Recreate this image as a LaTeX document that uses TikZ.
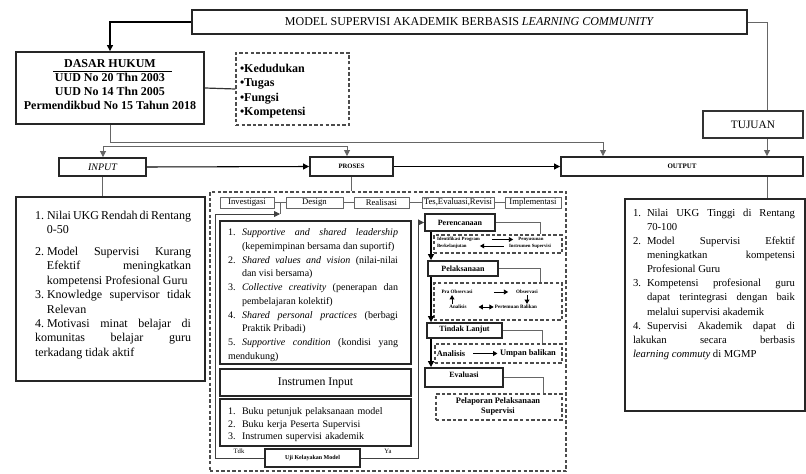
\documentclass[tikz,border=0pt]{standalone}
\usepackage{fontspec}
\setmainfont{Liberation Serif}
\usetikzlibrary{arrows.meta,fit}
\newlength{\lind}
\newcommand{\li}[2]{\par\hangindent=\lind\hangafter=1\noindent\makebox[\lind][l]{#1}#2}
\newcommand{\fs}[2]{\fontsize{#1}{#2}\selectfont}
\tikzset{
  heavy/.style={draw=black!85, line width=1.4pt, inner sep=0pt},
  medium/.style={draw=black!80, line width=1pt, inner sep=0pt},
  light/.style={draw=black!60, line width=0.6pt, inner sep=0pt},
  dbox/.style={draw=black!70, line width=1.1pt, dash pattern=on 2.6pt off 1.6pt, inner sep=0pt},
  link/.style={draw=black!60, line width=0.6pt},
  flow/.style={draw=black, line width=1.2pt},
  txt/.style={inner sep=0pt, outer sep=0pt},
  small tips/.style={>={Triangle[length=3.2pt,width=3.6pt]}},
}
\begin{document}
\begin{tikzpicture}[x=0.75pt,y=-0.75pt,>={Triangle[length=4.5pt,width=4.5pt]}]
\useasboundingbox[fill=white] (0,0) rectangle (806,474);

% ---------- top ----------
\node[heavy, fit={(192,10)(747,34)}] (title) {};
\node[txt, font=\fs{9}{11}] (titlet) at (title.center) {MODEL SUPERVISI AKADEMIK BERBASIS \textit{LEARNING COMMUNITY}};

\node[heavy, fit={(16,52)(204,124)}] (dh) {};
\node[txt, font=\bfseries\fs{9}{11}] (dht) at (110,64) {DASAR HUKUM};
\draw[line width=0.6pt] (53,71.5) -- (172,71.5);
\node[txt, font=\bfseries\fs{9}{10.5}, align=center, anchor=north] (dhl) at (110,73.5) {UUD No 20 Thn 2003\\UUD No 14 Thn 2005\\Permendikbud No 15 Tahun 2018};

\node[dbox, fit={(236,53)(349,125)}] (kb) {};
\node[txt, font=\bfseries\fs{9}{10.7}, align=left, anchor=west] (kbt) at (240,91) {•Kedudukan\\•Tugas\\•Fungsi\\•Kompetensi};

\node[medium, fit={(703,111)(803,138)}] (tuj) {};
\node[txt, font=\fs{8.5}{10}] (tujt) at (tuj.center) {TUJUAN};

% ---------- row ----------
\node[heavy, fit={(59,158)(146,176)}] (inp) {};
\node[txt, font=\itshape\fs{7.5}{9}] (inpt) at (inp.center) {INPUT};
\node[heavy, fit={(310,157)(393,176)}] (pro) {};
\node[txt, font=\bfseries\fs{5}{6}] (prot) at (pro.center) {PROSES};
\node[heavy, fit={(561,157)(803,176)}] (out) {};
\node[txt, font=\bfseries\fs{5.2}{6}] (outt) at (out.center) {OUTPUT};

% ---------- left box ----------
\node[heavy, fit={(16,197)(205,381)}] (lb) {};
\node[txt, anchor=north west, text width=117pt, align=justify, font=\fs{9}{10.8}] (lbt) at (35,205) {\setlength{\lind}{9pt}%
\li{1.}{Nilai UKG Rendah di Rentang\linebreak 0-50}\par\vskip5.5pt
\li{2.}{Model Supervisi Kurang\linebreak Efektif meningkatkan\linebreak kompetensi Profesional Guru}
\li{3.}{Knowledge supervisor tidak\linebreak Relevan}
\li{4.}{Motivasi minat belajar di\linebreak komunitas belajar guru\linebreak terkadang tidak aktif}};

% ---------- right box ----------
\node[heavy, fit={(625,199)(805,411)}] (rb) {};
\node[txt, anchor=north west, text width=121.5pt, align=justify, font=\fs{8}{10.6}] (rbt) at (633,202) {\setlength{\lind}{10.5pt}%
\li{1.}{Nilai UKG Tinggi di Rentang\linebreak 70-100}
\li{2.}{Model Supervisi Efektif\linebreak meningkatkan kompetensi\linebreak Profesional Guru}
\li{3.}{Kompetensi profesional guru\linebreak dapat terintegrasi dengan baik\linebreak melalui supervisi akademik}
\li{4.}{Supervisi Akademik dapat di\linebreak lakukan secara berbasis\linebreak \textit{learning commuty} di MGMP}};

% ---------- middle ----------
\node[dbox, fit={(210,192)(566,471)}] (mb) {};
\node[light, fit={(220,197)(274,208)}] (tab1) {};
\node[light, fit={(286,197)(343,208)}] (tab2) {};
\node[light, fit={(354,197)(409,208)}] (tab3) {};
\node[light, fit={(422,197)(494,208)}] (tab4) {};
\node[light, fit={(505,197)(561,208)}] (tab5) {};
\node[txt, font=\fs{6.5}{7}] (tab1t) at (tab1.center) {Investigasi};
\node[txt, font=\fs{6.5}{7}] (tab2t) at (tab2.center) {Design};
\node[txt, font=\fs{6.5}{7}] (tab3t) at (tab3.center) {Realisasi};
\node[txt, font=\fs{6.5}{7}] (tab4t) at (tab4.center) {Tes,Evaluasi,Revisi};
\node[txt, font=\fs{6.5}{7}] (tab5t) at (tab5.center) {Implementasi};

\node[heavy, fit={(220,221)(411,364)}] (ib) {};
\node[txt, anchor=north west, text width=127.5pt, align=justify, font=\fs{7.5}{10.3}] (ibt) at (228,222) {\setlength{\lind}{10.5pt}%
\li{1.}{\textit{Supportive and shared leadership}\linebreak (kepemimpinan bersama dan suportif)}
\li{2.}{\textit{Shared values and vision} (nilai-nilai\linebreak dan visi bersama)}
\li{3.}{\textit{Collective creativity} (penerapan dan\linebreak pembelajaran kolektif)}
\li{4.}{\textit{Shared personal practices} (berbagi\linebreak Praktik Pribadi)}
\li{5.}{\textit{Supportive condition} (kondisi yang\linebreak mendukung)}};

\node[heavy, fit={(220,369)(411,396)}] (ii) {};
\node[txt, font=\fs{8.8}{10}] (iit) at (ii.center) {Instrumen Input};
\node[heavy, fit={(220,399)(411,446)}] (il) {};
\node[txt, anchor=north west, text width=135pt, align=left, font=\fs{7.5}{9.4}] (ilt) at (228,402) {\setlength{\lind}{10.5pt}%
\li{1.}{Buku petunjuk pelaksanaan model}
\li{2.}{Buku kerja Peserta Supervisi}
\li{3.}{Instrumen supervisi akademik}};
\node[heavy, fit={(265,449)(360,467)}] (uji) {};
\node[txt, font=\bfseries\fs{4.5}{5}] (ujit) at (uji.center) {Uji Kelayakan Model};
\node[txt, font=\fs{5}{6}] (tdk) at (239,451) {Tdk};
\node[txt, font=\fs{5}{6}] (ya) at (388,451) {Ya};

% ---------- right flow ----------
\node[heavy, fit={(425,214)(495,231)}] (pere) {};
\node[txt, font=\bfseries\fs{6}{7}] (peret) at (pere.center) {Perencanaan};
\node[heavy, fit={(428,261)(498,276)}] (pel) {};
\node[txt, font=\bfseries\fs{6}{7}] (pelt) at (pel.center) {Pelaksanaan};
\node[heavy, fit={(427,323)(502,338)}] (tl) {};
\node[txt, font=\bfseries\fs{6}{7}] (tlt) at (464.5,329.5) {Tindak Lanjut};
\node[heavy, fit={(425,368)(503,387)}] (ev) {};
\node[txt, font=\bfseries\fs{6}{7}] (evt) at (464,375) {Evaluasi};

\node[dbox, fit={(434,235)(562,253)}] (d1) {};
\node[dbox, fit={(434,283)(562,320)}] (d2) {};
\node[dbox, fit={(435,344)(562,363)}] (d3) {};
\node[dbox, fit={(436,394)(562,420)}] (d4) {};

\node[txt, font=\bfseries\fs{3.6}{4.5}, anchor=west] (idf1) at (437,239.5) {Identifikasi Program};
\node[txt, font=\bfseries\fs{3.6}{4.5}, anchor=west] (idf2) at (437,246) {Berkelanjutan};
\node[txt, font=\bfseries\fs{3.6}{4.5}] (pen1) at (531,239.5) {Penyusunan};
\node[txt, font=\bfseries\fs{3.6}{4.5}] (pen2) at (530,246) {Instrumen Supervisi};

\node[txt, font=\bfseries\fs{3.8}{4.5}] (pra) at (457,292) {Pra Observasi};
\node[txt, font=\bfseries\fs{3.8}{4.5}] (obs) at (527,292) {Observasi};
\node[txt, font=\bfseries\fs{3.8}{4.5}] (pert) at (516,307) {Pertemuan Balikan};
\node[txt, font=\bfseries\fs{3.8}{4.5}] (ana) at (458,307) {Analisis};

\node[txt, font=\bfseries\fs{6.3}{7}] (ana3) at (451,353.5) {Analisis};
\node[txt, font=\bfseries\fs{6.3}{7}] (ump) at (528,353.5) {Umpan balikan};
\node[txt, font=\bfseries\fs{6.3}{7.5}, align=center] (lap) at (498,406) {Pelaporan Pelaksanaan\\Supervisi};

% ---------- connectors ----------
\draw[flow, line width=1pt, ->] (title.west) -| (dh.north);
\draw[draw=black!80, line width=0.9pt] (dh.east) -- (kb.west);
\coordinate (jA) at (603,142);
\draw[link, ->] (dh.south) |- (jA) -- (jA |- out.north);
\coordinate (jB) at (103,146);
\coordinate (jC) at (347,146);
\draw[link, <->] (jB |- inp.north) -- (jB) -- (jC) -- (jC |- pro.north);
\draw[flow, line width=0.8pt, ->] (inp.east) -- (pro.west);
\draw[flow, line width=0.8pt, ->] (pro.east) -- (out.west);
\coordinate (jT) at (767,22);
\draw[link] (title.east) -- (jT) -- (jT |- tuj.north);
\draw[link, ->] (jT |- tuj.south) -- (jT |- out.north);
\draw[link] (inp.south) -- (inp.south |- lb.north);
\draw[link] (jT |- out.south) -- (jT |- rb.north);
\draw[link] (pro.south) -- (pro.south |- mb.north);

\draw[link] (tab1.east) -- (tab2.west);
\draw[link] (tab2.east) -- (tab3.west);
\draw[link] (tab3.east) -- (tab4.west);
\draw[link] (tab4.east) -- (tab5.west);
\coordinate (jI) at (280,214);
\coordinate (jL) at (215,214);
\draw[link] (jI |- tab1.east) -- (jI);
\draw[link, draw=black!75, ->] (uji.west) -| (jL) -- (jI);
\coordinate (jY) at (418,0);
\draw[link, draw=black!75, ->] (uji.east) -| (jY |- pere.west) -- (pere.west);

\coordinate (jF) at (431,0);
\draw[flow, ->] (jF |- pere.south) -- (jF |- pel.north);
\draw[flow, ->] (jF |- pel.south) -- (jF |- tl.north);
\draw[flow, ->] (jF |- tl.south) -- (jF |- ev.north);

\coordinate (jR1) at (540,0);
\coordinate (jR2) at (542,0);
\coordinate (jR3) at (543,0);
\draw[link] (pere.east) -| (jR1 |- d1.north);
\draw[link] (pel.east) -| (jR1 |- d2.north);
\draw[link] (tl.east) -| (jR2 |- d3.north);
\draw[link] (ev.east) -| (jR3 |- d4.north);

\begin{scope}[small tips, line width=0.6pt]
\draw[->, shorten <=9pt, shorten >=4pt] (idf1.east) -- (pen1.west);
\draw[->, shorten <=4pt, shorten >=10pt] (pen2.west) -- (idf2.east);
\draw[->, shorten <=16pt, shorten >=6pt] (pra.east) -- (obs.west);
\draw[->, shorten <=1pt, shorten >=1pt] (obs.south) -- (obs.south |- pert.north);
\draw[<->, shorten <=9pt, shorten >=1pt] (ana.east) -- (pert.west);
\coordinate (jU) at (452,0);
\draw[->, shorten <=1pt, shorten >=1pt] (jU |- ana.north) -- (jU |- pra.south);
\draw[->, shorten <=6pt, shorten >=2pt] (ana3.east) -- (ump.west);
\end{scope}
\end{tikzpicture}
\end{document}
